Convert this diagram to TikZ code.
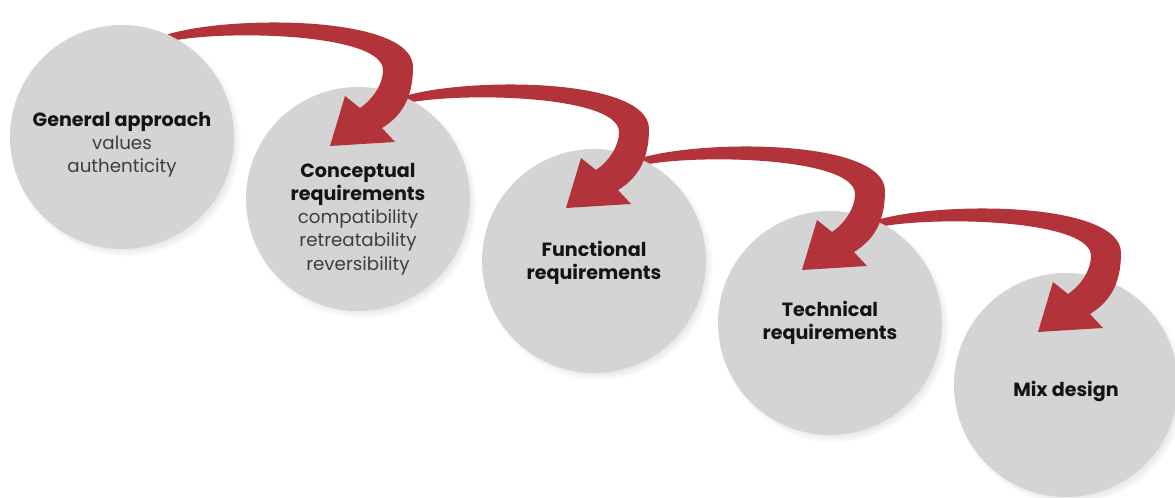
\documentclass[tikz,border=0pt]{standalone}
\usepackage{fontspec}
\setmainfont{Poppins}
\usetikzlibrary{calc,shadows}
\definecolor{stepgray}{RGB}{212,212,212}
\definecolor{arrowred}{RGB}{178,52,58}
\definecolor{headtext}{RGB}{20,20,20}
\definecolor{subtext}{RGB}{62,62,62}
\newcommand{\stepname}[1]{{\fontsize{13.6}{16.5}\selectfont\bfseries\color{headtext}#1}}
\begin{document}
\begin{tikzpicture}[
	disc/.style={circle, fill=stepgray, minimum size=5.6cm, inner sep=0pt,
		circular drop shadow={shadow xshift=2.5pt, shadow yshift=-3pt, shadow scale=1.03, opacity=.35}},
	caption/.style={align=center, text=subtext, font=\fontsize{13}{16.5}\selectfont},
	flowband/.style={fill=arrowred}
]
	\useasboundingbox (0,0) rectangle (29.375,12.45);

	% the five steps
	\node[disc] (c1) at (3.05,9.025) {};
	\node[disc] (c2) at (8.95,7.475) {};
	\node[disc] (c3) at (14.85,5.925) {};
	\node[disc] (c4) at (20.75,4.375) {};
	\node[disc] (c5) at (26.65,2.825) {};

	\node[caption] (t1) at ([yshift=-2mm]c1.center) {\stepname{General approach}\\values\\authenticity};
	\node[caption] (t2) at ([yshift=-5mm]c2.center) {\stepname{Conceptual}\\\stepname{requirements}\\compatibility\\retreatability\\reversibility};
	\node[caption] (t3) at ([yshift=-0.5mm]c3.center) {\stepname{Functional}\\\stepname{requirements}};
	\node[caption] (t4) at (c4.center) {\stepname{Technical}\\\stepname{requirements}};
	\node[caption] (t5) at ([yshift=-1.5mm]c5.center) {\stepname{Mix design}};

	% curved arrows from one step to the next
	\foreach \src/\dst in {c1/c2,c2/c3,c3/c4,c4/c5}
		\fill[flowband] (\src.66) .. controls ($(\dst)+(-3.2,4.6)$) and ($(\dst)+(1.375,4.6)$) .. ($(\dst)+(1.375,3.3)$)
			.. controls ($(\dst)+(1.375,2.475)$) and ($(\dst)+(1.05,2.05)$) .. ($(\dst)+(0.6,1.775)$)
			-- ($(\dst)+(0.925,1.425)$) -- ($(\dst)+(-0.7,1.325)$) -- ($(\dst)+(-0.325,2.575)$) -- ($(\dst)+(0.05,2.275)$)
			.. controls ($(\dst)+(0.35,2.475)$) and ($(\dst)+(0.625,2.85)$) .. ($(\dst)+(0.625,3.225)$)
			.. controls ($(\dst)+(0.625,4.1)$) and ($(\dst)+(-2.95,4.225)$) .. (\src.60) -- cycle;
\end{tikzpicture}
\end{document}
